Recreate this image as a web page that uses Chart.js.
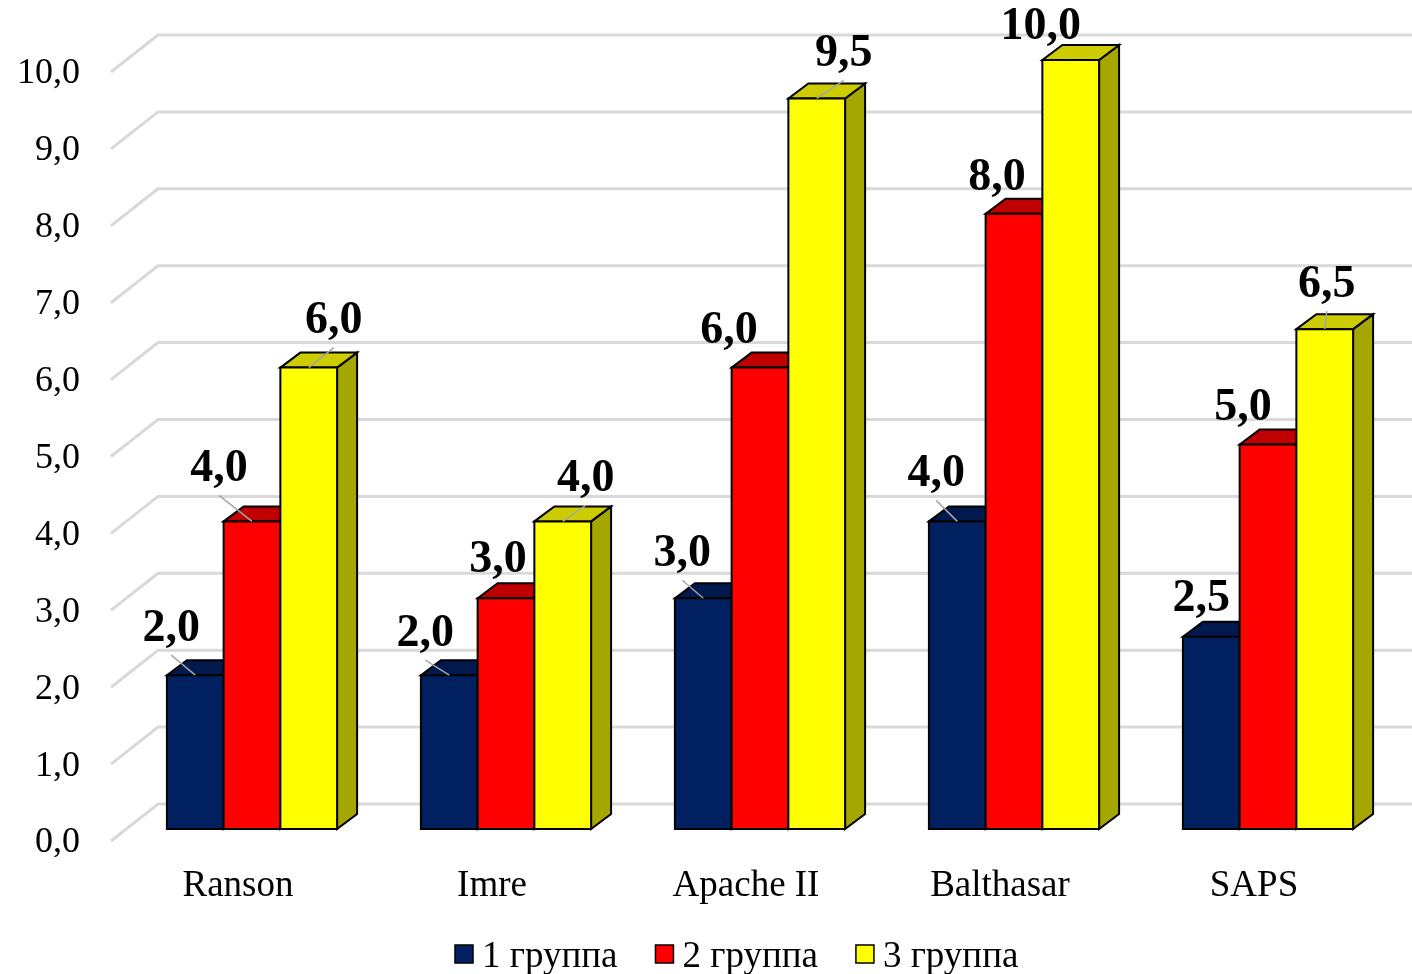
<!DOCTYPE html>
<html>
<head>
<meta charset="utf-8">
<script src="https://cdn.jsdelivr.net/npm/chart.js@4/dist/chart.umd.min.js"></script>
<style>
  html, body { margin: 0; padding: 0; background: #ffffff; }
  canvas { display: block; }
</style>
</head>
<body>
<canvas id="chart" width="1412" height="974"></canvas>
<script>
// Scores by scale, one array per patient group
const categories = ['Ranson', 'Imre', 'Apache II', 'Balthasar', 'SAPS'];
const group1 = [2.0, 2.0, 3.0, 4.0, 2.5];
const group2 = [4.0, 3.0, 6.0, 8.0, 5.0];
const group3 = [6.0, 4.0, 9.5, 10.0, 6.5];
const seriesNames = ['1 группа', '2 группа', '3 группа'];
const yTicks = [0, 1, 2, 3, 4, 5, 6, 7, 8, 9, 10];

// Where each value label sits relative to the top of its column
const labelShift1 = [[-24, -46], [-24, -41], [-21, -44], [-21, -47], [-10, -38]];
const labelShift2 = [[-33, -52], [-8, -38], [-31, -36], [-17, -36], [-25, -36]];
const labelShift3 = [[25, -46], [23, -42], [27, -44], [-30, -33], [2, -44]];
const labelShifts = [labelShift1, labelShift2, labelShift3];
// Which moved labels keep a leader line back to their column
const leader1 = [true, true, true, true, false];
const leader2 = [true, false, false, false, false];
const leader3 = [true, true, true, false, true];
const leaders = [leader1, leader2, leader3];

const SERIF = '"Liberation Serif", "Times New Roman", serif';
const DEPTH = { dx: 20, dy: -15 };   // column depth
const WALL  = { dx: 33, dy: -25 };   // back wall relative to the column front plane
const EDGE  = { dx: -14, dy: 12 };   // front edge of the floor

const faces = [
  { front: '#002060', top: '#001A4D', side: '#00163F' },
  { front: '#FF0000', top: '#C00000', side: '#A00000' },
  { front: '#FFFF00', top: '#CCCC00', side: '#A6A600' }
];

function fmt(v) { return v.toFixed(1).replace('.', ','); }

function poly(ctx, pts, fill) {
  ctx.beginPath();
  ctx.moveTo(pts[0][0], pts[0][1]);
  for (let k = 1; k < pts.length; k++) ctx.lineTo(pts[k][0], pts[k][1]);
  ctx.closePath();
  ctx.fillStyle = fill;
  ctx.fill();
  ctx.stroke();
}

const columns3d = {
  id: 'columns3d',
  beforeDatasetsDraw(chart) {
    const { ctx, chartArea: a, scales: { x, y } } = chart;
    ctx.save();
    // walls: side-wall diagonals and back-wall gridlines
    ctx.strokeStyle = '#D9D9D9';
    ctx.lineWidth = 3;
    yTicks.forEach(v => {
      const py = y.getPixelForValue(v);
      ctx.beginPath();
      ctx.moveTo(a.left + EDGE.dx, py + EDGE.dy);
      ctx.lineTo(a.left + WALL.dx, py + WALL.dy);
      ctx.lineTo(chart.width + 5, py + WALL.dy);
      ctx.stroke();
    });
    // value axis labels
    ctx.fillStyle = '#000';
    ctx.font = '36px ' + SERIF;
    ctx.textAlign = 'right';
    ctx.textBaseline = 'middle';
    yTicks.forEach(v => {
      ctx.fillText(fmt(v), 80, y.getPixelForValue(v) + EDGE.dy + 2);
    });
    // category labels
    ctx.textAlign = 'center';
    ctx.font = '37px ' + SERIF;
    categories.forEach((c, i) => {
      ctx.fillText(c, x.getPixelForValue(i) + EDGE.dx, 886);
    });
    ctx.restore();
    return false; // the columns are drawn as boxes below
  },
  afterDraw(chart) {
    const ctx = chart.ctx;
    const metas = chart.data.datasets.map((d, i) => chart.getDatasetMeta(i));
    ctx.save();
    ctx.lineWidth = 2;
    ctx.strokeStyle = '#000';
    ctx.lineJoin = 'miter';
    const tops = [];
    for (let j = 0; j < categories.length; j++) {
      metas.forEach((m, i) => {
        const b = m.data[j].getProps(['x', 'y', 'base', 'width'], true);
        const l = b.x - b.width / 2, r = b.x + b.width / 2, t = b.y, btm = b.base;
        const f = faces[i];
        poly(ctx, [[r, btm], [r + DEPTH.dx, btm + DEPTH.dy], [r + DEPTH.dx, t + DEPTH.dy], [r, t]], f.side);
        poly(ctx, [[l, t], [l + DEPTH.dx, t + DEPTH.dy], [r + DEPTH.dx, t + DEPTH.dy], [r, t]], f.top);
        poly(ctx, [[l, t], [r, t], [r, btm], [l, btm]], f.front);
        tops.push({ i, j, x: b.x, y: t });
      });
    }
    // value labels with leader lines
    ctx.font = 'bold 46px ' + SERIF;
    ctx.textAlign = 'center';
    ctx.textBaseline = 'middle';
    tops.forEach(p => {
      const v = chart.data.datasets[p.i].data[p.j];
      const s = labelShifts[p.i][p.j];
      const cx = p.x + s[0], cy = p.y + s[1];
      if (leaders[p.i][p.j]) {
        ctx.strokeStyle = '#A6A6A6';
        ctx.lineWidth = 1.5;
        ctx.beginPath();
        ctx.moveTo(cx, cy + 26);
        ctx.lineTo(p.x, p.y);
        ctx.stroke();
      }
      ctx.fillStyle = '#000';
      ctx.fillText(fmt(v), cx, cy);
    });
    // legend
    ctx.font = '37px ' + SERIF;
    ctx.textAlign = 'left';
    ctx.textBaseline = 'middle';
    ctx.lineWidth = 1.5;
    ctx.strokeStyle = '#000';
    let lx = 455;
    seriesNames.forEach((name, i) => {
      ctx.fillStyle = faces[i].front;
      ctx.fillRect(lx, 945, 18, 18);
      ctx.strokeRect(lx, 945, 18, 18);
      ctx.fillStyle = '#000';
      ctx.fillText(name, lx + 27, 957);
      lx += 27 + ctx.measureText(name).width + 38;
    });
    ctx.restore();
  }
};

new Chart(document.getElementById('chart'), {
  type: 'bar',
  data: {
    labels: categories,
    datasets: [
      { label: seriesNames[0], data: group1, backgroundColor: faces[0].front },
      { label: seriesNames[1], data: group2, backgroundColor: faces[1].front },
      { label: seriesNames[2], data: group3, backgroundColor: faces[2].front }
    ]
  },
  options: {
    responsive: false,
    devicePixelRatio: 1,
    animation: false,
    categoryPercentage: 0.67,
    barPercentage: 1.0,
    layout: { padding: { left: 125, right: 17, top: 60, bottom: 145 } },
    scales: {
      x: { display: false, offset: true },
      y: { display: false, min: 0, max: 10 }
    },
    plugins: { legend: { display: false }, tooltip: { enabled: false } }
  },
  plugins: [columns3d]
});
</script>
</body>
</html>
